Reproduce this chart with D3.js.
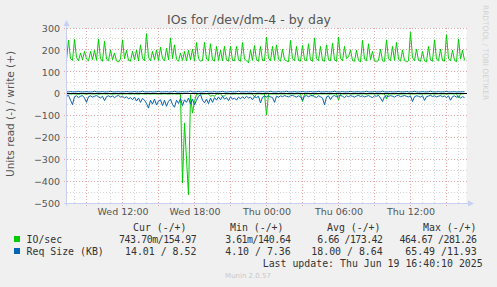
<!DOCTYPE html>
<html><head><meta charset="utf-8">
<script src="https://cdn.jsdelivr.net/npm/d3@7"></script>
<style>
html,body{margin:0;padding:0;background:#f0f0f0;}
svg{display:block;}
text{font-family:"DejaVu Sans",sans-serif;}
.mono{font-family:"DejaVu Sans Mono",monospace;white-space:pre;}
</style></head><body><svg id="c" width="497" height="287"></svg>
<script>
// ---- data ----
const START = Date.UTC(2025,5,18,7,20);   // Wed 07:20
const END   = Date.UTC(2025,5,19,16,40);  // Thu 16:40
const STEP_MIN = 10;

// IO/sec write (+)
const ioWrite = [
155,245,160,152,248,165,150,186,155,193,
158,150,193,155,198,152,250,160,148,240,
158,150,200,155,186,150,145,158,246,160,
198,152,148,193,155,200,150,223,162,150,
274,165,150,193,155,200,152,213,160,150,
208,155,254,160,223,158,148,186,152,193,
150,198,155,204,150,234,160,148,152,234,
158,150,228,155,148,216,152,198,150,216,
155,148,216,152,150,216,155,148,234,158,
150,141,200,152,220,155,148,216,152,150,
259,162,150,216,152,223,158,148,204,155,
150,146,243,160,150,216,152,148,220,155,
150,228,155,148,254,160,150,216,152,148,
223,155,150,231,155,148,259,162,150,216,
160,168,200,152,148,198,152,145,243,158,
150,228,155,193,150,146,152,204,150,148,
246,160,150,216,152,234,158,148,200,152,
146,150,280,165,150,204,152,148,193,150,
146,216,155,148,246,158,150,204,152,148,
269,160,150,198,152,146,250,158,198,152
];
// IO/sec read (-)
const ioRead = [
1.2,0.8,2.1,1.5,0.9,1.8,3.2,1.1,0.7,1.4,
2.5,1.0,0.6,1.9,1.3,0.8,2.2,1.6,0.9,1.2,
1.8,0.7,1.1,2.6,1.4,0.9,1.7,1.0,2.0,1.3,
0.8,1.5,2.4,1.1,0.9,1.6,3.0,1.2,0.8,1.9,
1.4,0.9,2.2,1.3,0.7,1.8,1.1,2.7,1.5,0.9,
1.3,2.0,1.0,1.6,0.8,2.4,1.2,4.0,408,134,
300,462,5.0,89,35,3.2,1.5,1.0,2.2,1.4,
0.9,1.7,12,8.0,12,1.3,2.1,0.8,12,10,
1.5,1.1,0.9,2.3,1.6,1.0,1.8,1.2,0.7,2.0,
1.3,0.9,1.6,2.4,15,1.1,0.8,1.5,2.2,1.0,
97,1.4,0.9,1.7,1.2,2.5,1.0,0.8,1.6,1.3,
0.9,2.1,1.4,1.0,1.8,1.2,0.7,1.5,36,1.1,
1.6,0.9,1.3,12,1.0,2.2,1.4,0.8,1.7,1.1,
0.9,1.5,2.3,1.2,0.8,1.6,30,1.3,1.0,1.9,
1.4,0.8,1.2,2.0,1.1,0.9,1.7,1.3,0.7,1.5,
2.2,1.0,1.4,0.8,1.6,1.2,2.5,0.9,1.3,1.1,
25,1.5,0.9,1.8,1.2,0.7,1.4,2.1,1.0,1.3,
0.8,1.6,1.1,1.9,1.4,0.9,1.2,2.3,1.0,1.5,
1.2,0.8,1.7,1.1,2.0,1.4,0.9,1.3,1.6,1.0,
2.4,1.1,0.8,1.5,1.2,0.9,20,1.3,1.0,0.74
];
// Req Size (KB) read (-)
const reqRead = [
12,8,30,50,14,10,18,12,9,20,
40,14,10,16,12,9,14,20,12,32,
14,10,15,11,18,12,8,16,12,20,
14,24,18,28,16,34,20,40,22,30,
45,66,30,48,25,52,34,28,55,30,
58,35,25,50,62,30,45,22,55,28,
40,20,48,25,52,30,12,4.1,30,42,
25,46,20,40,18,30,15,28,12,25,
18,32,14,26,20,30,16,24,14,22,
12,20,16,28,14,18,12,43,16,12,
15,10,14,18,40,12,16,10,14,9,
12,15,10,8,12,16,10,14,31,12,
9,14,10,8,13,18,10,14,20,51,
15,10,28,12,9,14,11,8,12,18,
10,14,9,12,16,11,8,13,10,15,
12,9,14,18,10,12,8,20,36,14,
10,13,9,12,16,10,8,14,11,9,
12,15,10,36,14,10,12,16,9,31,
14,11,8,13,10,15,12,9,14,11,
18,10,30,14,10,16,12,20,14,18
];
// Req Size (KB) write (+)
const reqWrite = [
8.2,8.0,9.6,8.1,7.9,8.4,10.2,8.0,7.8,8.3,
9.1,8.0,7.7,8.5,10.8,8.1,7.9,8.2,9.4,7.8,
8.0,8.6,11.2,8.1,7.8,8.3,9.2,7.9,8.0,8.4,
10.1,8.2,7.7,8.1,9.5,7.9,8.0,8.5,11.6,8.2,
7.8,8.0,9.0,7.6,8.1,8.7,10.4,8.0,7.9,8.2,
9.3,7.8,8.0,8.4,10.9,8.1,7.7,8.3,9.1,7.9,
8.2,8.6,11.9,8.0,7.8,8.1,9.7,7.7,8.0,8.4,
10.3,8.2,7.9,8.0,9.2,7.8,8.1,8.5,10.6,8.0,
7.6,8.2,9.4,7.9,8.0,8.3,11.0,8.1,7.8,8.2,
9.0,7.7,8.0,8.6,10.2,8.1,7.9,8.3,9.6,7.8,
8.0,8.4,10.8,8.2,7.7,8.1,9.3,7.9,8.1,8.5,
11.4,8.0,7.8,8.2,9.1,7.6,8.0,8.3,10.0,8.1,
7.9,8.4,9.8,7.8,8.2,8.6,10.7,8.0,7.7,8.1,
9.2,7.9,8.0,8.4,11.1,8.2,7.8,8.0,9.5,7.7,
8.1,8.5,10.4,8.0,7.9,8.2,9.0,7.4,8.0,8.3,
10.9,8.1,7.8,8.2,9.6,7.9,8.0,8.6,11.5,8.2,
7.7,8.1,9.3,7.8,8.0,8.4,10.1,8.0,7.9,8.3,
9.7,7.8,8.1,8.5,10.6,8.2,7.6,8.0,9.1,7.9,
8.0,8.4,11.3,8.1,7.8,8.2,9.4,7.7,8.1,8.5,
10.5,8.0,7.9,8.2,9.0,7.8,8.1,8.5,8.4,8.5
];

const yTicks = [300,200,100,0,-100,-200,-300,-400,-500];
const xTickTimes = [Date.UTC(2025,5,18,12), Date.UTC(2025,5,18,18), Date.UTC(2025,5,19,0), Date.UTC(2025,5,19,6), Date.UTC(2025,5,19,12)];
const xTickLabels = ["Wed 12:00","Wed 18:00","Thu 00:00","Thu 06:00","Thu 12:00"];

const titleText = "IOs for /dev/dm-4 - by day";
const yLabel = "Units read (-) / write (+)";
const seriesNames = ["IO/sec","Req Size (KB)"];
const seriesColors = ["#00cc00","#0066b3"];
const legendHeaders = ["Cur (-/+)","Min (-/+)","Avg (-/+)","Max (-/+)"];
const legendRead  = [["743.70m","  3.61m","  6.66 ","464.67 "],[" 14.01 ","  4.10 "," 18.00 "," 65.49 "]];
const legendWrite = [["154.97","140.64","173.42","281.26"],["  8.52","  7.36","  8.64"," 11.93"]];
const lastUpdate = "Last update: Thu Jun 19 16:40:10 2025";
const version = "Munin 2.0.57";
const watermark = "RRDTOOL / TOBI OETIKER";

// ---- drawing ----
const svg = d3.select("#c");
const X0 = 66.5, X1 = 466.5, YT = 28, YB = 203;
const x = d3.scaleUtc().domain([new Date(START), new Date(END)]).range([X0, X1]);
const y = d3.scaleLinear().domain([-500, 300]).range([YB, YT]);
const tAt = i => new Date(START + i * STEP_MIN * 60000);
const crisp = v => Math.floor(v) + 0.5;

svg.append("rect").attr("width",497).attr("height",287).attr("fill","#f0f0f0");
svg.append("rect").attr("x",X0).attr("y",YT).attr("width",X1-X0).attr("height",YB-YT).attr("fill","#ffffff");

const grid = svg.append("g").attr("shape-rendering","crispEdges");
grid.selectAll(".hm").data(d3.range(-450, 300, 100)).join("line")
  .attr("x1",X0).attr("x2",X1).attr("y1",d=>crisp(y(d))).attr("y2",d=>crisp(y(d)))
  .attr("stroke","#d4d4d4").attr("stroke-dasharray","1,2");
const hours = d3.utcHour.range(new Date(START), new Date(END));
grid.selectAll(".vm").data(hours.filter(h=>h.getUTCHours()%3!==0)).join("line")
  .attr("x1",d=>crisp(x(d))).attr("x2",d=>crisp(x(d))).attr("y1",YT).attr("y2",YB)
  .attr("stroke","#d4d4d4").attr("stroke-dasharray","1,2");
grid.selectAll(".hM").data(yTicks).join("line")
  .attr("x1",X0-3).attr("x2",X1).attr("y1",d=>crisp(y(d))).attr("y2",d=>crisp(y(d)))
  .attr("stroke","#e8a8a8").attr("stroke-dasharray","1,2");
grid.selectAll(".vM").data(hours.filter(h=>h.getUTCHours()%3===0)).join("line")
  .attr("x1",d=>crisp(x(d))).attr("x2",d=>crisp(x(d))).attr("y1",YT).attr("y2",YB+3)
  .attr("stroke","#e8a8a8").attr("stroke-dasharray","1,2");

const plot = svg.append("g");
const lineGen = sign => d3.line().x((d,i)=>x(tAt(i))).y(d=>y(sign*d));
plot.append("path").attr("d", lineGen(-1)(ioRead)).attr("fill","none").attr("stroke",seriesColors[0]).attr("stroke-width",1);
plot.append("path").attr("d", lineGen(1)(ioWrite)).attr("fill","none").attr("stroke",seriesColors[0]).attr("stroke-width",1);
plot.append("path").attr("d", lineGen(-1)(reqRead)).attr("fill","none").attr("stroke",seriesColors[1]).attr("stroke-width",1);
plot.append("path").attr("d", lineGen(1)(reqWrite)).attr("fill","none").attr("stroke",seriesColors[1]).attr("stroke-width",1);
plot.append("line").attr("x1",X0).attr("x2",X1).attr("y1",crisp(y(0))).attr("y2",crisp(y(0)))
  .attr("stroke","#000").attr("shape-rendering","crispEdges");

const axc = "#c8cff5";
svg.append("line").attr("x1",X0).attr("x2",X0).attr("y1",YB+3).attr("y2",25).attr("stroke",axc).attr("shape-rendering","crispEdges");
svg.append("line").attr("x1",X0-3).attr("x2",469).attr("y1",crisp(YB)).attr("y2",crisp(YB)).attr("stroke",axc).attr("shape-rendering","crispEdges");
svg.append("path").attr("d",`M${X0-3},26 L${X0+3},26 L${X0},20 Z`).attr("fill",axc);
svg.append("path").attr("d",`M468,${crisp(YB)-3} L468,${crisp(YB)+3} L474,${crisp(YB)} Z`).attr("fill",axc);

const yAxis = d3.axisLeft(y).tickValues(yTicks).tickSize(0).tickPadding(0).tickFormat(d3.format("d"));
const gy = svg.append("g").attr("transform","translate(60,0)").call(yAxis);
gy.select(".domain").remove();
gy.selectAll("text").attr("font-family","DejaVu Sans").attr("font-size","9.5px").attr("fill","#555").attr("dy","0.35em");

const xAxis = d3.axisBottom(x).tickValues(xTickTimes.map(d=>new Date(d))).tickSize(0).tickPadding(0)
  .tickFormat((d,i)=>xTickLabels[i]);
const gx = svg.append("g").attr("transform","translate(0,208)").call(xAxis);
gx.select(".domain").remove();
gx.selectAll("text").attr("font-family","DejaVu Sans").attr("font-size","9.5px").attr("fill","#555").attr("dy","0.75em");

svg.append("text").attr("x",249).attr("y",23.5).attr("text-anchor","middle")
  .attr("font-size","12.5px").attr("fill","#555").text(titleText);
svg.append("text").attr("transform","translate(14,114) rotate(-90)").attr("text-anchor","middle")
  .attr("font-size","10.5px").attr("fill","#555").text(yLabel);
svg.append("text").attr("transform","translate(483,5) rotate(90)").attr("text-anchor","start")
  .attr("font-size","7.4px").attr("fill","#d2d2d2").text(watermark);

// legend
const CW = 5.97, FS = "9.9px";
const colEnd = [196.7, 291, 383, 477];
const headStart = [133, 230, 327, 423];
const lg = svg.append("g").attr("font-size",FS).attr("fill","#333");
legendHeaders.forEach((h,j)=>{
  lg.append("text").attr("class","mono").attr("x",headStart[j]).attr("y",231).text(h);
});
seriesNames.forEach((n,r)=>{
  const yy = 243 + r*12;
  svg.append("rect").attr("x",14).attr("y",yy-7).attr("width",6).attr("height",6).attr("fill",seriesColors[r]);
  lg.append("text").attr("class","mono").attr("x",26.5).attr("y",yy).text(n);
  colEnd.forEach((e,j)=>{
    const s = e - 13*CW;
    const rd = legendRead[r][j], wr = legendWrite[r][j];
    const t = lg.append("text").attr("class","mono").attr("x",s).attr("y",yy);
    if (wr[0] === " ") {
      // slash sits in the blank first cell of the write field
      t.text(rd + "/" + wr.slice(1));
    } else {
      // rrdtool squeezes the slash into 13 cells
      const full = (rd + "/" + wr).replace(/^ +/, "");
      const lead = (rd + "/" + wr).length - full.length;
      t.attr("x", s + lead*CW).attr("textLength",(13-lead)*CW).attr("lengthAdjust","spacing").text(full);
    }
  });
});
lg.append("text").attr("class","mono").attr("x",482.7).attr("y",267).attr("text-anchor","end").text(lastUpdate);
svg.append("text").attr("x",248).attr("y",278).attr("text-anchor","middle").attr("font-size","7px").attr("fill","#c8c8c8").text(version);
</script></body></html>
